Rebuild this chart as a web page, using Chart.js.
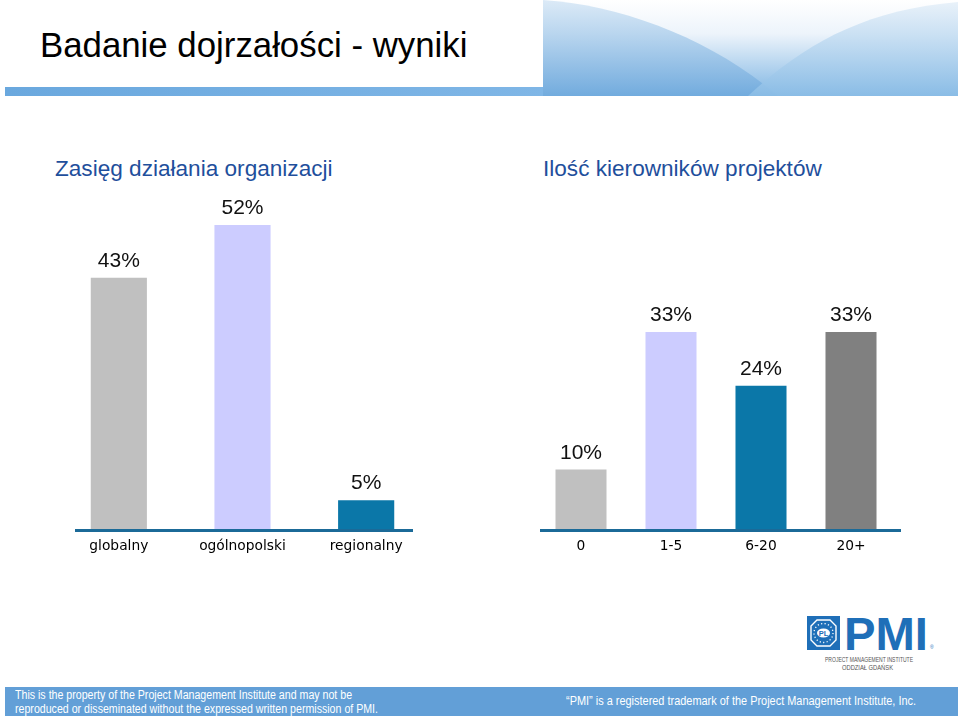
<!DOCTYPE html>
<html>
<head>
<meta charset="utf-8">
<script src="https://cdn.jsdelivr.net/npm/chart.js@4.4.1/dist/chart.umd.min.js"></script>
<style>
  html, body { margin:0; padding:0; background:#fff; }
  body { width:960px; height:716px; position:relative; overflow:hidden; font-family:"Liberation Sans", Arial, sans-serif; }
  .abs { position:absolute; }
  #title { left:40px; top:25px; font-size:34.8px; color:#000; white-space:nowrap; }
  #strip { left:5px; top:87px; width:540px; height:9px; background:linear-gradient(to right,#6aa8de,#7fb6e6); }
  #banner { left:543px; top:0; width:415px; height:96px; }
  .ctitle { top:156px; font-size:22.6px; color:#1f4f9c; white-space:nowrap; font-family:"Liberation Sans", Arial, sans-serif; }
  #c1wrap { left:40px; top:180px; width:400px; height:390px; }
  #c2wrap { left:520px; top:180px; width:400px; height:390px; }
  #footer { left:5px; top:687px; width:953px; height:29px; background:#629fd7; color:#fff; }
  #fl { left:10px; top:1px; font-size:12px; line-height:14px; white-space:nowrap; transform:scaleX(0.885); transform-origin:0 0; font-family:"Liberation Sans", Arial, sans-serif; }
  #fr { left:561px; top:6px; font-size:13.5px; white-space:nowrap; transform:scaleX(0.81); transform-origin:0 0; font-family:"Liberation Sans", Arial, sans-serif; }
  #logo { left:800px; top:608px; width:140px; height:66px; }
</style>
</head>
<body>
<div id="title" class="abs">Badanie dojrzałości - wyniki</div>
<div id="strip" class="abs"></div>
<svg id="banner" class="abs" viewBox="0 0 415 96" preserveAspectRatio="none">
  <defs>
    <linearGradient id="bg" x1="0" y1="0" x2="0" y2="1">
      <stop offset="0" stop-color="#ffffff"/>
      <stop offset="0.35" stop-color="#edf4fb"/>
      <stop offset="1" stop-color="#80b6e3"/>
    </linearGradient>
    <linearGradient id="lobe" x1="0" y1="0" x2="0" y2="1">
      <stop offset="0" stop-color="#d8e8f6" stop-opacity="0.9"/>
      <stop offset="1" stop-color="#70aadd" stop-opacity="0.9"/>
    </linearGradient>
    <linearGradient id="lobe2" x1="0" y1="0" x2="0" y2="1">
      <stop offset="0" stop-color="#e6f0f9" stop-opacity="0.9"/>
      <stop offset="1" stop-color="#8bbde6" stop-opacity="0.9"/>
    </linearGradient>
  </defs>
  <rect x="0" y="0" width="415" height="96" fill="url(#bg)"/>
  <path d="M0,0 C80,5 170,40 235,96 L0,96 Z" fill="url(#lobe)"/>
  <path d="M205,96 C260,45 320,10 415,2 L415,96 Z" fill="url(#lobe2)"/>
</svg>

<div class="abs ctitle" style="left:55px;">Zasięg działania organizacji</div>
<div class="abs ctitle" style="left:543px;">Ilość kierowników projektów</div>

<div id="c1wrap" class="abs"><canvas id="c1" width="400" height="390"></canvas></div>
<div id="c2wrap" class="abs"><canvas id="c2" width="400" height="390"></canvas></div>

<svg id="logo" class="abs" viewBox="0 0 140 66">
  <rect x="7" y="8" width="33" height="34" fill="#1f6fb8"/>
  <polygon points="17,12 30,12 36,18 36,32 30,38 17,38 11,32 11,18" fill="none" stroke="#fff" stroke-width="1.4"/>
  <circle cx="23.5" cy="25" r="9.5" fill="none" stroke="#fff" stroke-width="1.3" stroke-dasharray="1.2,2.3"/>
  <ellipse cx="23.5" cy="25" rx="6.5" ry="4.5" fill="#fff"/>
  <text x="23.5" y="28" font-size="7.5" font-weight="bold" fill="#1f6fb8" text-anchor="middle" font-family="Liberation Sans, Arial">PL</text>
  <text x="44" y="42" font-size="46" font-weight="bold" fill="#1f6fb8" font-family="Liberation Sans, Arial" textLength="84" lengthAdjust="spacingAndGlyphs">PMI</text>
  <text x="130" y="41" font-size="5" fill="#1f6fb8" font-family="Liberation Sans, Arial">®</text>
  <text x="69" y="54" font-size="6.5" fill="#555" text-anchor="middle" font-family="Liberation Sans, Arial" textLength="88" lengthAdjust="spacingAndGlyphs">PROJECT MANAGEMENT INSTITUTE</text>
  <text x="67.5" y="62" font-size="6.5" fill="#555" text-anchor="middle" font-family="Liberation Sans, Arial" textLength="51" lengthAdjust="spacingAndGlyphs">ODDZIAŁ GDAŃSK</text>
</svg>

<div id="footer" class="abs">
  <div id="fl" class="abs">This is the property of the Project Management Institute and may not be<br>reproduced or disseminated without the expressed written permission of PMI.</div>
  <div id="fr" class="abs">“PMI” is a registered trademark of the Project Management Institute, Inc.</div>
</div>

<script>
// ---- data ----
const scopeCategories = ["globalny", "ogólnopolski", "regionalny"];
const scopeValues = [43, 52, 5];
const managersCategories = ["0", "1-5", "6-20", "20+"];
const managersValues = [10, 33, 24, 33];

const scopeColors = ["#c0c0c0", "#ccccff", "#0b77a8"];
const managersColors = ["#c0c0c0", "#ccccff", "#0b77a8", "#808080"];

const valueLabels = {
  id: "valueLabels",
  afterDatasetsDraw(chart) {
    const ctx = chart.ctx;
    ctx.save();
    ctx.font = '21px "Liberation Sans", Arial, sans-serif';
    ctx.fillStyle = "#111";
    ctx.textAlign = "center";
    ctx.textBaseline = "bottom";
    chart.data.datasets.forEach((ds, di) => {
      chart.getDatasetMeta(di).data.forEach((bar, i) => {
        ctx.fillText(ds.data[i] + "%", bar.x, bar.y - 6);
      });
    });
    ctx.restore();
  }
};

const baseLine = {
  id: "baseLine",
  afterDatasetsDraw(chart, args, opts) {
    const ctx = chart.ctx;
    const y = chart.scales.y.getPixelForValue(0) + 1;
    ctx.save();
    ctx.strokeStyle = opts.color || "#1b6a98";
    ctx.lineWidth = opts.width || 3;
    ctx.beginPath();
    ctx.moveTo(chart.chartArea.left + (opts.insetLeft || 0), y);
    ctx.lineTo(chart.chartArea.right - (opts.insetRight || 0), y);
    ctx.stroke();
    ctx.restore();
  }
};

function makeChart(id, cats, vals, colors, yMax, pad, barPct, inset) {
  return new Chart(document.getElementById(id), {
    type: "bar",
    data: {
      labels: cats,
      datasets: [{ data: vals, backgroundColor: colors, borderWidth: 0, barPercentage: barPct, categoryPercentage: 1.0 }]
    },
    options: {
      responsive: false,
      animation: false,
      layout: { padding: pad },
      plugins: {
        legend: { display: false },
        tooltip: { enabled: false },
        baseLine: { color: "#1b6a98", width: 3, insetLeft: inset[0], insetRight: inset[1] }
      },
      scales: {
        x: {
          grid: { display: false, drawTicks: false },
          border: { display: false },
          ticks: { color: "#000", padding: 9, font: { family: '"DejaVu Sans", Verdana, sans-serif', size: 13.8 } }
        },
        y: { display: false, min: 0, max: yMax }
      }
    },
    plugins: [valueLabels, baseLine]
  });
}

makeChart("c1", scopeCategories, scopeValues, scopeColors, 58,
  { left: 17, right: 12, top: 10, bottom: 6 }, 0.454, [18, 15]);
makeChart("c2", managersCategories, managersValues, managersColors, 40,
  { left: 16, right: 24, top: 110, bottom: 6 }, 0.567, [4, -5]);
</script>
</body>
</html>
